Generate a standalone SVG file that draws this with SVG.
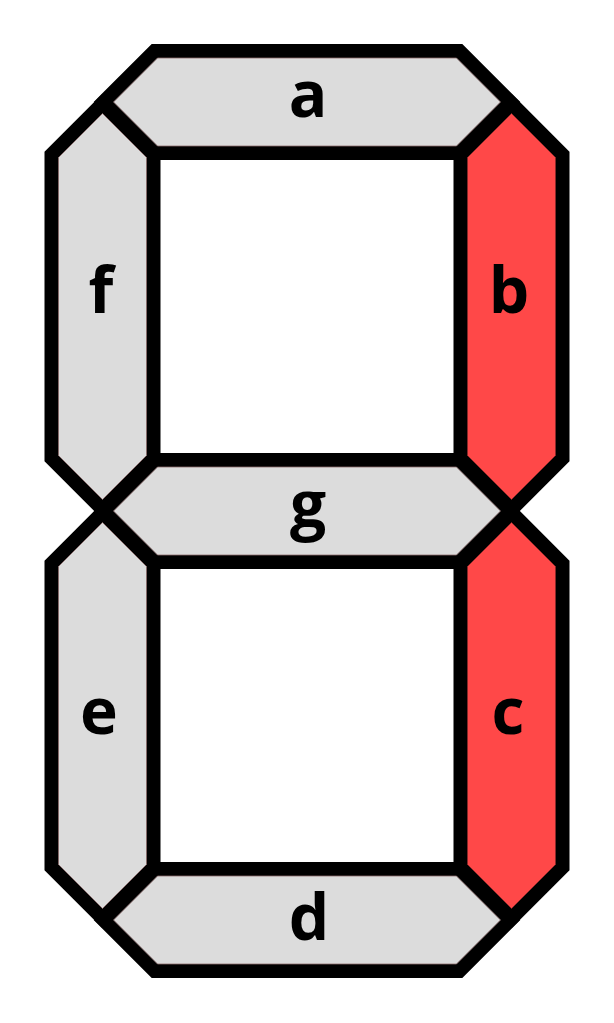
<svg xmlns="http://www.w3.org/2000/svg" xmlns:xlink="http://www.w3.org/1999/xlink" width="614" height="1023" viewBox="0 0 614 1023">
  <style>
    .outline { fill: #000; stroke: #000; stroke-width: 28; stroke-linejoin: miter; stroke-miterlimit: 10; }
    .off { fill: #dcdcdc; stroke: #8a6a6a; stroke-width: 0.8; }
    .on { fill: #ff4848; stroke: #8a2a2a; stroke-width: 0.8; }
    .lbl { font-family: "Open Sans", "Liberation Sans", sans-serif; font-weight: bold; font-size: 64px; fill: #000; text-anchor: middle; }
  </style>
  <defs>
    <polygon id="seg-a" points="113.5,102 157.5,58 456.5,58 500.5,102 456.5,146 157.5,146"/>
    <polygon id="seg-g" points="113.5,511 157.5,467 456.5,467 500.5,511 456.5,555 157.5,555"/>
    <polygon id="seg-d" points="113.5,920 157.5,876 456.5,876 500.5,920 456.5,964 157.5,964"/>
    <polygon id="seg-f" points="102.5,113.5 146.5,157.5 146.5,455.5 102.5,499.5 58.5,455.5 58.5,157.5"/>
    <polygon id="seg-b" points="511.5,113.5 555.5,157.5 555.5,455.5 511.5,499.5 467.5,455.5 467.5,157.5"/>
    <polygon id="seg-e" points="102.5,522.5 146.5,566.5 146.5,864.5 102.5,908.5 58.5,864.5 58.5,566.5"/>
    <polygon id="seg-c" points="511.5,522.5 555.5,566.5 555.5,864.5 511.5,908.5 467.5,864.5 467.5,566.5"/>
  </defs>
  <rect width="614" height="1023" fill="#fff"/>
  <g id="outlines">
    <use xlink:href="#seg-a" class="outline"/>
    <use xlink:href="#seg-b" class="outline"/>
    <use xlink:href="#seg-c" class="outline"/>
    <use xlink:href="#seg-d" class="outline"/>
    <use xlink:href="#seg-e" class="outline"/>
    <use xlink:href="#seg-f" class="outline"/>
    <use xlink:href="#seg-g" class="outline"/>
  </g>
  <g id="segment-a">
    <use xlink:href="#seg-a" class="off"/>
    <text class="lbl" x="308" y="117">a</text>
  </g>
  <g id="segment-b">
    <use xlink:href="#seg-b" class="on"/>
    <text class="lbl" x="509" y="313">b</text>
  </g>
  <g id="segment-c">
    <use xlink:href="#seg-c" class="on"/>
    <text class="lbl" x="508" y="734">c</text>
  </g>
  <g id="segment-d">
    <use xlink:href="#seg-d" class="off"/>
    <text class="lbl" x="309" y="940">d</text>
  </g>
  <g id="segment-e">
    <use xlink:href="#seg-e" class="off"/>
    <text class="lbl" x="99" y="734">e</text>
  </g>
  <g id="segment-f">
    <use xlink:href="#seg-f" class="off"/>
    <text class="lbl" x="101" y="313">f</text>
  </g>
  <g id="segment-g">
    <use xlink:href="#seg-g" class="off"/>
    <text class="lbl" x="308" y="527">g</text>
  </g>
</svg>
